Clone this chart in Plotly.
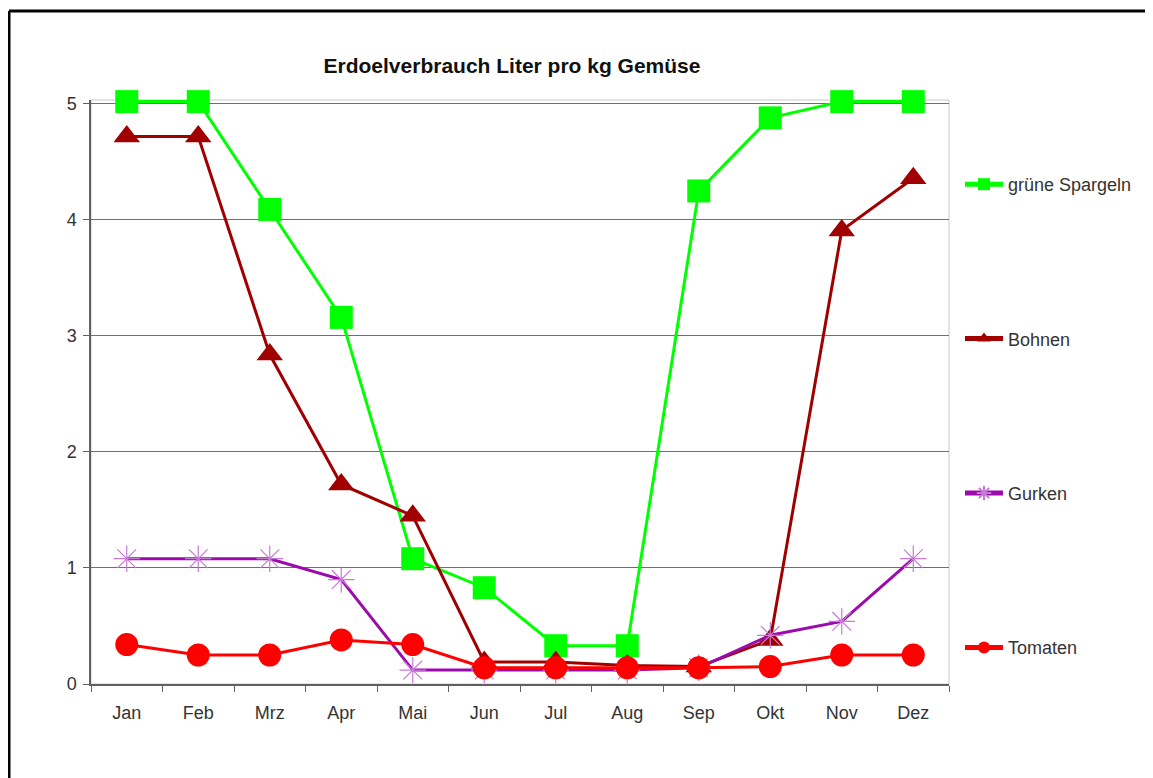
import plotly.graph_objects as go

months = ["Jan", "Feb", "Mrz", "Apr", "Mai", "Jun", "Jul", "Aug", "Sep", "Okt", "Nov", "Dez"]
spargeln = [5.02, 5.02, 4.09, 3.16, 1.08, 0.83, 0.33, 0.33, 4.25, 4.88, 5.02, 5.02]
bohnen = [4.72, 4.72, 2.84, 1.72, 1.45, 0.19, 0.19, 0.16, 0.15, 0.38, 3.91, 4.36]
gurken = [1.08, 1.08, 1.08, 0.90, 0.12, 0.12, 0.12, 0.12, 0.14, 0.42, 0.54, 1.08]
tomaten = [0.34, 0.25, 0.25, 0.38, 0.34, 0.14, 0.14, 0.14, 0.14, 0.15, 0.25, 0.25]

# page body has an 8px margin, so all pixel positions are shifted by 8
W, H = 1153, 778
L, T = 83, 92
R = W - (949 - 8)
B = H - (684 - 8)
pw = W - L - R
ph = H - T - B
font = "Arial, Liberation Sans"

fig = go.Figure()

series = [
    ("grüne Spargeln", spargeln, "#00FF00", dict(symbol="square", size=23, color="#00FF00")),
    ("Bohnen", bohnen, "#A00000", dict(symbol="triangle-up", size=23, color="#A00000")),
    ("Gurken", gurken, "#9C0AAE",
     dict(symbol="asterisk-open", size=22, color="#C77BD6", line=dict(color="#C77BD6", width=1.2))),
    ("Tomaten", tomaten, "#FF0000", dict(symbol="circle", size=23, color="#FF0000")),
]
for name, vals, col, mk in series:
    fig.add_trace(go.Scatter(x=months, y=vals, name=name, mode="lines+markers",
                             line=dict(color=col, width=3), marker=mk,
                             legendgroup=name, cliponaxis=False))

fig.update_xaxes(type="category", range=[-0.5, 11.5], tickson="boundaries", ticks="outside", ticklen=6,
                 tickcolor="#606060", showline=True, linecolor="#606060", linewidth=1.5,
                 ticklabelstandoff=12,
                 showgrid=False, tickfont=dict(family=font, size=18, color="#333333"))
fig.update_yaxes(range=[0, 5.034], tickvals=[0, 1, 2, 3, 4, 5], ticks="outside", ticklen=6,
                 tickcolor="#606060", showline=True, linecolor="#606060", linewidth=1.5,
                 ticklabelstandoff=3,
                 showgrid=True, gridcolor="#6f6f6f", gridwidth=1.3, zeroline=False,
                 tickfont=dict(family=font, size=18, color="#333333"))

# outer black frame: only top and left edges are inside the picture
fx0 = (1 - L) / pw
fy1 = (H - B - 3) / ph
fig.update_layout(
    width=W, height=H,
    margin=dict(l=L, r=R, t=T, b=B, pad=0),
    plot_bgcolor="white", paper_bgcolor="white",
    title=dict(text="<b>Erdoelverbrauch Liter pro kg Gemüse</b>", x=(512 - 8) / W, xanchor="center",
               y=1 - (66 - 8) / H, yanchor="middle",
               font=dict(family=font, size=21, color="#111111")),
    legend=dict(x=(960 - 8 - L) / pw, xanchor="left", y=(H - B - (168 - 10)) / ph, yanchor="top",
                traceorder="grouped", tracegroupgap=128, itemsizing="constant", itemwidth=38,
                font=dict(family=font, size=18, color="#333333"),
                bgcolor="rgba(0,0,0,0)"),
    shapes=[
        dict(type="rect", xref="paper", yref="paper", x0=0, x1=1, y0=0, y1=1,
             line=dict(color="#C8C8C0", width=1), layer="below"),
        dict(type="line", xref="paper", yref="paper", x0=fx0, x1=(W - L) / pw, y0=fy1, y1=fy1,
             line=dict(color="black", width=3)),
        dict(type="line", xref="paper", yref="paper", x0=fx0, x1=fx0, y0=-B / ph, y1=fy1,
             line=dict(color="black", width=3)),
    ],
)

fig.write_html("out.html")
